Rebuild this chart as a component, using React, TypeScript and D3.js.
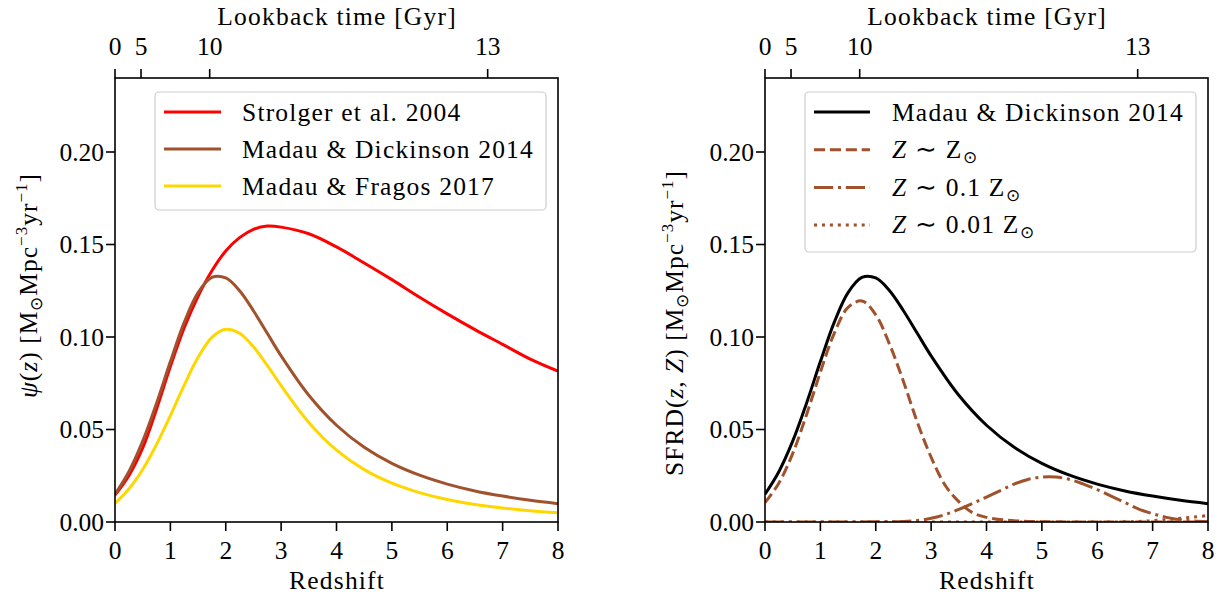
import React from "react";
import * as d3 from "d3";

// ---------- data ----------
const zGrid = [0, 0.25, 0.5, 0.75, 1, 1.25, 1.5, 1.75, 2, 2.25, 2.5, 2.75, 3, 3.5, 4, 4.5, 5, 5.5, 6, 6.5, 7, 7.5, 8];
const strolger = [0.0145, 0.025, 0.040, 0.061, 0.084, 0.105, 0.122, 0.1358, 0.1465, 0.1537, 0.1582, 0.1600, 0.1594, 0.1558, 0.1487, 0.1400, 0.1310, 0.1215, 0.1125, 0.104, 0.096, 0.088, 0.0815];
const madauDickinson = [0.0150, 0.0272, 0.0437, 0.0642, 0.0867, 0.1079, 0.1240, 0.1322, 0.1319, 0.1250, 0.1142, 0.1020, 0.0898, 0.0685, 0.0523, 0.0404, 0.0317, 0.0253, 0.0205, 0.0168, 0.0140, 0.0117, 0.0099];
const madauFragos = [0.0100, 0.0178, 0.0284, 0.0419, 0.0575, 0.0740, 0.0890, 0.0998, 0.1042, 0.1020, 0.0947, 0.0846, 0.0737, 0.0538, 0.0388, 0.0283, 0.0210, 0.0159, 0.0122, 0.0095, 0.0076, 0.0061, 0.0050];

const zSolar = [0, 0.25, 0.5, 0.75, 1, 1.25, 1.5, 1.75, 2, 2.25, 2.5, 2.75, 3, 3.25, 3.5, 3.75, 4, 4.5, 5, 6, 7, 8];
const sfrdSolar = [0.0105, 0.021, 0.037, 0.058, 0.081, 0.102, 0.116, 0.1195, 0.112, 0.096, 0.076, 0.054, 0.035, 0.020, 0.011, 0.005, 0.0025, 0.0007, 0.0002, 0, 0, 0];
const zTenth = [0, 1, 2, 2.5, 2.75, 3, 3.25, 3.5, 3.75, 4, 4.25, 4.5, 4.75, 5, 5.25, 5.5, 5.75, 6, 6.25, 6.5, 6.75, 7, 7.25, 7.5, 7.75, 8];
const sfrdTenth = [0, 0, 0.0001, 0.0003, 0.0008, 0.002, 0.004, 0.0068, 0.010, 0.0135, 0.017, 0.0205, 0.023, 0.0243, 0.0243, 0.023, 0.0205, 0.0175, 0.014, 0.0105, 0.007, 0.0045, 0.0025, 0.0012, 0.0005, 0.0002];
const zHundredth = [0, 6, 6.5, 6.75, 7, 7.25, 7.5, 7.75, 8];
const sfrdHundredth = [0, 0, 0.0001, 0.0003, 0.0007, 0.0013, 0.002, 0.0027, 0.0035];

const xTicks = [0, 1, 2, 3, 4, 5, 6, 7, 8];
const yTicks = [0, 0.05, 0.1, 0.15, 0.2];
const lookbackLabels = ["0", "5", "10", "13"];
const lookbackZ = [0, 0.47, 1.71, 6.73];

const leftLegend = ["Strolger et al. 2004", "Madau & Dickinson 2014", "Madau & Fragos 2017"];

// ---------- layout ----------
const W = 1223;
const H = 603;
const TOP = 78;
const BOTTOM = 522;
const PANEL_W = 443;
const LEFTS = [115, 765];
const FONT = "'Liberation Serif', 'Times New Roman', serif";
const FS = 25.5;
const SUB = 17;
const LS = 1.2;
const BROWN = "#a0522d";

const yScale = d3.scaleLinear().domain([0, 0.24]).range([BOTTOM, TOP]);

function Panel({ x0, id, children }: { x0: number; id: string; children: (xs: d3.ScaleLinear<number, number>) => React.ReactNode }) {
  const xs = d3.scaleLinear().domain([0, 8]).range([x0, x0 + PANEL_W]);
  return (
    <g>
      <defs>
        <clipPath id={id}>
          <rect x={x0} y={TOP} width={PANEL_W} height={BOTTOM - TOP} />
        </clipPath>
      </defs>
      <g clipPath={`url(#${id})`}>{children(xs)}</g>
      <rect x={x0} y={TOP} width={PANEL_W} height={BOTTOM - TOP} fill="none" stroke="#000" strokeWidth={1.6} />
      {xTicks.map((t) => (
        <g key={"xb" + t}>
          <line x1={xs(t)} x2={xs(t)} y1={BOTTOM} y2={BOTTOM + 9} stroke="#000" strokeWidth={1.6} />
          <text x={xs(t)} y={BOTTOM + 36.5} textAnchor="middle" fontFamily={FONT} fontSize={FS}>{t}</text>
        </g>
      ))}
      <text x={x0 + PANEL_W / 2 + LS / 2} y={589} textAnchor="middle" fontFamily={FONT} fontSize={FS} letterSpacing={LS}>Redshift</text>
      {yTicks.map((t) => (
        <g key={"yl" + t}>
          <line x1={x0 - 9} x2={x0} y1={yScale(t)} y2={yScale(t)} stroke="#000" strokeWidth={1.6} />
          <text x={x0 - 11} y={yScale(t) + 8.5} textAnchor="end" fontFamily={FONT} fontSize={FS}>{t.toFixed(2)}</text>
        </g>
      ))}
      {lookbackZ.map((z, i) => (
        <g key={"xt" + i}>
          <line x1={xs(z)} x2={xs(z)} y1={TOP - 9} y2={TOP} stroke="#000" strokeWidth={1.6} />
          <text x={xs(z)} y={55} textAnchor="middle" fontFamily={FONT} fontSize={FS}>{lookbackLabels[i]}</text>
        </g>
      ))}
      <text x={x0 + PANEL_W / 2 + LS / 2} y={25} textAnchor="middle" fontFamily={FONT} fontSize={FS} letterSpacing={LS}>Lookback time [Gyr]</text>
    </g>
  );
}

function curve(xs: d3.ScaleLinear<number, number>, zs: number[], vs: number[]) {
  const pts = zs.map((z, i) => [z, vs[i]] as [number, number]);
  return d3.line<[number, number]>().x((d) => xs(d[0])).y((d) => yScale(d[1])).curve(d3.curveCatmullRom.alpha(0.5))(pts) || "";
}

function Units() {
  return (
    <>
      <tspan>[M</tspan>
      <tspan fontSize={SUB} dy={5}>⊙</tspan>
      <tspan dy={-5}>Mpc</tspan>
      <tspan fontSize={SUB} dy={-10}>−3</tspan>
      <tspan dy={10}>yr</tspan>
      <tspan fontSize={SUB} dy={-10}>−1</tspan>
      <tspan dy={10}>]</tspan>
    </>
  );
}

export default function App() {
  const lx = 155, ly = 92, lw = 391, lh = 118;
  const rx = 805, ry = 92, rw = 391, rh = 160;
  const leftColors = ["#ff0000", BROWN, "#ffd700"];
  const rightStyles = [
    { color: "#000", dash: "none" },
    { color: BROWN, dash: "11.1 4.8" },
    { color: BROWN, dash: "19.2 4.8 3 4.8" },
    { color: BROWN, dash: "3 4.95" },
  ];
  return (
    <svg width={W} height={H} style={{ position: "absolute", left: 0, top: 0, background: "#fff" }}>
      <rect x={0} y={0} width={W} height={H} fill="#fff" />
      <Panel x0={LEFTS[0]} id="clipL">
        {(xs) => (
          <g fill="none" strokeWidth={3}>
            <path d={curve(xs, zGrid, strolger)} stroke="#ff0000" />
            <path d={curve(xs, zGrid, madauDickinson)} stroke={BROWN} />
            <path d={curve(xs, zGrid, madauFragos)} stroke="#ffd700" />
          </g>
        )}
      </Panel>
      <Panel x0={LEFTS[1]} id="clipR">
        {(xs) => (
          <g fill="none" strokeWidth={3}>
            <path d={curve(xs, zGrid, madauDickinson)} stroke="#000" />
            <path d={curve(xs, zSolar, sfrdSolar)} stroke={BROWN} strokeDasharray="11.1 4.8" />
            <path d={curve(xs, zTenth, sfrdTenth)} stroke={BROWN} strokeDasharray="19.2 4.8 3 4.8" />
            <path d={curve(xs, zHundredth, sfrdHundredth)} stroke={BROWN} strokeDasharray="3 4.95" />
          </g>
        )}
      </Panel>

      <text transform="translate(37,173) rotate(-90)" textAnchor="end" fontFamily={FONT} fontSize={FS} letterSpacing={1}>
        <tspan fontStyle="italic">ψ</tspan>
        <tspan>(</tspan>
        <tspan fontStyle="italic">z</tspan>
        <tspan>) </tspan>
        <Units />
      </text>
      <text transform="translate(683,170) rotate(-90)" textAnchor="end" fontFamily={FONT} fontSize={FS} letterSpacing={1}>
        <tspan>SFRD(</tspan>
        <tspan fontStyle="italic">z</tspan>
        <tspan>, </tspan>
        <tspan fontStyle="italic">Z</tspan>
        <tspan>) </tspan>
        <Units />
      </text>

      <rect x={lx} y={ly} width={lw} height={lh} rx={4} fill="#fff" fillOpacity={0.8} stroke="#cccccc" strokeWidth={1.2} />
      {leftLegend.map((s, i) => (
        <g key={s}>
          <line x1={164} x2={221} y1={112 + i * 37} y2={112 + i * 37} stroke={leftColors[i]} strokeWidth={3} />
          <text x={242} y={112 + i * 37 + 8.5} fontFamily={FONT} fontSize={FS} letterSpacing={LS}>{s}</text>
        </g>
      ))}

      <rect x={rx} y={ry} width={rw} height={rh} rx={4} fill="#fff" fillOpacity={0.8} stroke="#cccccc" strokeWidth={1.2} />
      {rightStyles.map((st, i) => (
        <line key={i} x1={814} x2={870} y1={112 + i * 37.7} y2={112 + i * 37.7} stroke={st.color} strokeWidth={3} strokeDasharray={st.dash} />
      ))}
      <text x={892} y={120.5} fontFamily={FONT} fontSize={FS} letterSpacing={LS}>Madau &amp; Dickinson 2014</text>
      <text x={892} y={158} fontFamily={FONT} fontSize={FS} letterSpacing={LS}>
        <tspan fontStyle="italic">Z</tspan>
        <tspan> ∼ Z</tspan>
        <tspan fontSize={SUB} dy={5}>⊙</tspan>
      </text>
      <text x={892} y={195.5} fontFamily={FONT} fontSize={FS} letterSpacing={LS}>
        <tspan fontStyle="italic">Z</tspan>
        <tspan> ∼  0.1 Z</tspan>
        <tspan fontSize={SUB} dy={5}>⊙</tspan>
      </text>
      <text x={892} y={233} fontFamily={FONT} fontSize={FS} letterSpacing={LS}>
        <tspan fontStyle="italic">Z</tspan>
        <tspan> ∼  0.01 Z</tspan>
        <tspan fontSize={SUB} dy={5}>⊙</tspan>
      </text>
    </svg>
  );
}
